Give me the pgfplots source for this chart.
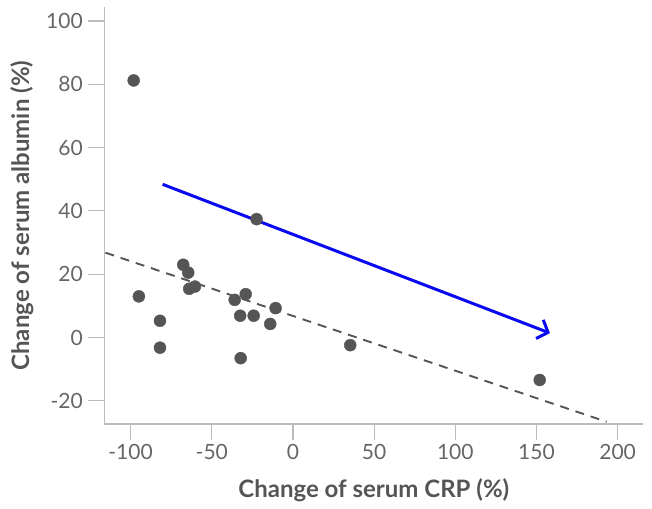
\documentclass[border=0pt]{standalone}
\usepackage{pgfplots}
\pgfplotsset{compat=1.18}
\usepackage{fontspec}
\setmainfont{Lato}
\usetikzlibrary{arrows.meta}

\definecolor{axisgray}{HTML}{BBBBBB}
\definecolor{ticktext}{HTML}{666666}
\definecolor{textgray}{HTML}{555555}
\definecolor{dotgray}{HTML}{555555}
\definecolor{arrowblue}{HTML}{0A0AF0}

\begin{document}
\begin{tikzpicture}
\useasboundingbox (-104.3pt,-84pt) rectangle (547.7pt,424pt);
\begin{axis}[
    scale only axis,
    width=539pt,
    height=416.7pt,
    xmin=-116.2, xmax=215.8,
    ymin=-27.3, ymax=104.3,
    axis lines*=left,
    axis line style={axisgray, line width=1.2pt},
    xtick={-100,-50,0,50,100,150,200},
    ytick={-20,0,20,40,60,80,100},
    tick align=outside,
    major tick length=16pt,
    tick style={axisgray, line width=1.2pt},
    /pgf/number format/assume math mode=true,
    ticklabel style={font=\fontsize{21}{24}\selectfont, text=ticktext},
    xticklabel style={yshift=-1pt},
    yticklabel style={xshift=-2pt},
    xlabel={Change of serum CRP (\%)},
    ylabel={Change of serum albumin (\%)},
    label style={font=\fontsize{24}{28}\selectfont\bfseries, text=textgray},
    xlabel style={at={(axis description cs:0.5,-0.1584)}, anchor=center},
    ylabel style={at={(axis description cs:-0.1527,0.5)}, anchor=center},
    clip=false,
]

% regression line
\addplot[dotgray, line width=1.9pt, dash pattern=on 9pt off 7pt] coordinates {
    (-115.5,26.8) (193.2,-26.6)
};

% observations
\addplot[only marks, mark=*, mark size=6pt, color=dotgray] coordinates {
    (-98.1,81.2)
    (-94.9,13.0)
    (-81.9,5.3)
    (-81.9,-3.2)
    (-67.6,23.0)
    (-64.5,20.5)
    (-63.9,15.4)
    (-60.4,16.1)
    (-35.9,11.9)
    (-29.1,13.7)
    (-32.5,6.9)
    (-24.2,6.9)
    (-32.2,-6.5)
    (-14.0,4.3)
    (-10.7,9.3)
    (35.3,-2.4)
    (152.0,-13.4)
    (-22.4,37.4)
};

% trend arrow
\addplot[arrowblue, line width=3pt,
    -{Straight Barb[length=9pt, width=20pt, line width=3pt]}] coordinates {
    (-80.3,48.4) (158.3,1.4)
};

\end{axis}
\end{tikzpicture}
\end{document}
